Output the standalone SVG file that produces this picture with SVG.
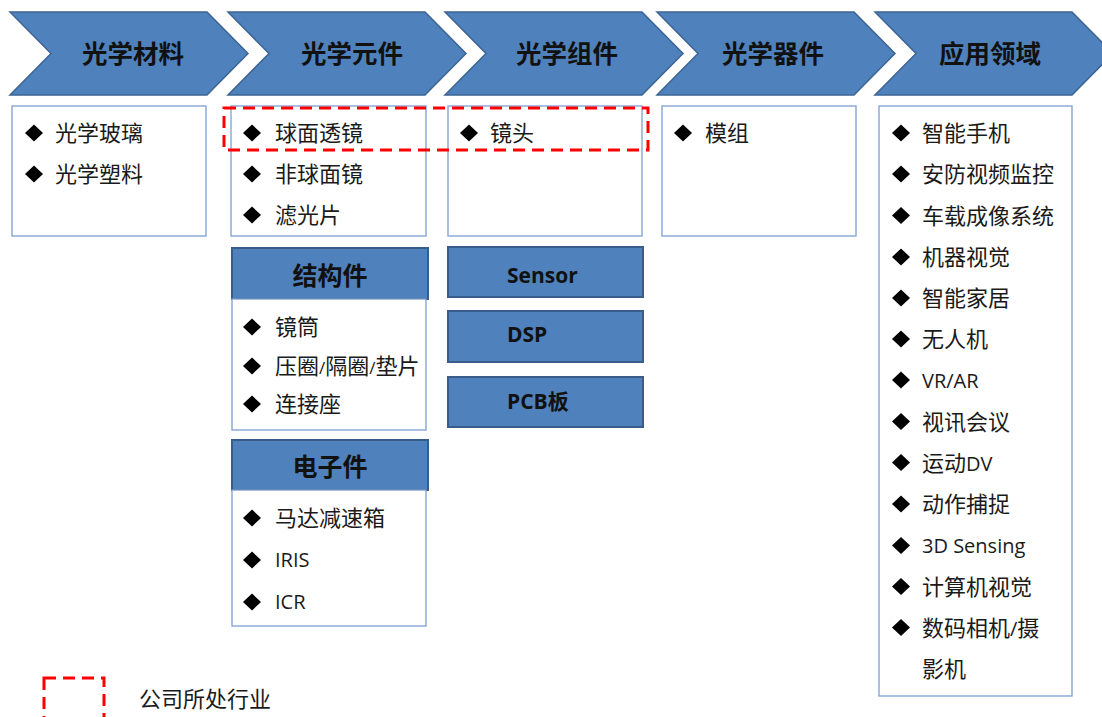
<svg xmlns="http://www.w3.org/2000/svg" width="1102" height="717" viewBox="0 0 1102 717">
<style>
.chev{fill:#4f81bd;stroke:#3c6494;stroke-width:1.5}
.ct{font-family:"Noto Sans CJK SC",sans-serif;font-weight:bold;font-size:25.5px;fill:#111;text-anchor:middle}
.box{fill:#fff;stroke:#7d9fd3;stroke-width:1.3}
.hdr{fill:#4f81bd;stroke:#385d8a;stroke-width:2}
.ht{font-family:"Noto Sans CJK SC",sans-serif;font-weight:bold;font-size:25px;fill:#111;text-anchor:middle}
.hl{font-family:"Open Sans","Noto Sans CJK SC",sans-serif;font-weight:bold;font-size:21px;fill:#111}
.it{font-family:"Open Sans","Noto Sans CJK SC",sans-serif;font-size:22px;fill:#1a1a1a}
.lat{font-size:20px}
.sl{font-size:17px}
.dash{fill:none;stroke:#ff0000;stroke-width:3;stroke-dasharray:12 7}
</style>
<defs>
<polygon id="dia" points="0,-8.5 9,0 0,8.5 -9,0" fill="#000"/>
</defs>

<g id="chevrons">
<g id="c1"><polygon class="chev" points="10,12 207,12 248,53.5 207,95 10,95 51,53.5"/><text class="ct" x="133" y="63">光学材料</text></g>
<g id="c2"><polygon class="chev" points="228,12 425,12 466,53.5 425,95 228,95 269,53.5"/><text class="ct" x="352" y="63">光学元件</text></g>
<g id="c3"><polygon class="chev" points="445,12 642,12 683,53.5 642,95 445,95 486,53.5"/><text class="ct" x="567" y="63">光学组件</text></g>
<g id="c4"><polygon class="chev" points="657,12 854,12 895,53.5 854,95 657,95 698,53.5"/><text class="ct" x="773" y="63">光学器件</text></g>
<g id="c5"><polygon class="chev" points="875,12 1072,12 1113,53.5 1072,95 875,95 916,53.5"/><text class="ct" x="990" y="63">应用领域</text></g>
</g>

<g id="box1">
<rect class="box" x="12" y="106" width="194" height="130"/>
<use href="#dia" x="34" y="133"/><text class="it" x="55" y="141">光学玻璃</text>
<use href="#dia" x="34" y="174"/><text class="it" x="55" y="182">光学塑料</text>
</g>

<g id="box2">
<rect class="box" x="231" y="106" width="195" height="130"/>
<use href="#dia" x="252" y="133"/><text class="it" x="275" y="141">球面透镜</text>
<use href="#dia" x="252" y="174"/><text class="it" x="275" y="182">非球面镜</text>
<use href="#dia" x="252" y="215"/><text class="it" x="275" y="223">滤光片</text>
</g>

<g id="box3">
<rect class="box" x="448" y="106" width="194" height="130"/>
<use href="#dia" x="469" y="133"/><text class="it" x="490" y="141">镜头</text>
</g>

<g id="box4">
<rect class="box" x="662" y="106" width="194" height="130"/>
<use href="#dia" x="683" y="133"/><text class="it" x="705" y="141">模组</text>
</g>

<g id="box5">
<rect class="box" x="879" y="106" width="193" height="590"/>
<use href="#dia" x="901" y="133"/><text class="it" x="922" y="141">智能手机</text>
<use href="#dia" x="901" y="174"/><text class="it" x="922" y="182">安防视频监控</text>
<use href="#dia" x="901" y="215.5"/><text class="it" x="922" y="223.5">车载成像系统</text>
<use href="#dia" x="901" y="257"/><text class="it" x="922" y="265">机器视觉</text>
<use href="#dia" x="901" y="298"/><text class="it" x="922" y="306">智能家居</text>
<use href="#dia" x="901" y="339"/><text class="it" x="922" y="347">无人机</text>
<use href="#dia" x="901" y="380"/><text class="it" x="922" y="388"><tspan class="lat">VR/AR</tspan></text>
<use href="#dia" x="901" y="421.5"/><text class="it" x="922" y="429.5">视讯会议</text>
<use href="#dia" x="901" y="462.5"/><text class="it" x="922" y="470.5">运动<tspan class="lat">DV</tspan></text>
<use href="#dia" x="901" y="504"/><text class="it" x="922" y="512">动作捕捉</text>
<use href="#dia" x="901" y="545.5"/><text class="it" x="922" y="553"><tspan class="lat">3D Sensing</tspan></text>
<use href="#dia" x="901" y="586.5"/><text class="it" x="922" y="594.5">计算机视觉</text>
<use href="#dia" x="901" y="627.5"/><text class="it" x="922" y="635.5">数码相机<tspan class="lat">/</tspan>摄</text>
<text class="it" x="922" y="676.5">影机</text>
</g>

<g id="struct">
<rect class="hdr" x="232" y="248" width="196" height="51"/>
<text class="ht" x="330" y="285">结构件</text>
<rect class="box" x="232" y="299" width="194" height="131"/>
<use href="#dia" x="252" y="327"/><text class="it" x="275" y="335">镜筒</text>
<use href="#dia" x="252" y="366"/><text class="it" x="275" y="374">压圈<tspan class="sl">/</tspan>隔圈<tspan class="sl">/</tspan>垫片</text>
<use href="#dia" x="252" y="404"/><text class="it" x="275" y="412">连接座</text>
</g>

<g id="elec">
<rect class="hdr" x="232" y="440" width="196" height="50"/>
<text class="ht" x="330" y="476">电子件</text>
<rect class="box" x="232" y="490" width="194" height="136"/>
<use href="#dia" x="252" y="518"/><text class="it" x="275" y="526">马达减速箱</text>
<use href="#dia" x="252" y="560"/><text class="it" x="275" y="567"><tspan class="lat">IRIS</tspan></text>
<use href="#dia" x="252" y="602"/><text class="it" x="275" y="609"><tspan class="lat">ICR</tspan></text>
</g>

<g id="sensor"><rect class="hdr" x="448" y="247" width="195" height="50"/><text class="hl" x="507" y="283">Sensor</text></g>
<g id="dsp"><rect class="hdr" x="448" y="311" width="195" height="51"/><text class="hl" x="507" y="342">DSP</text></g>
<g id="pcb"><rect class="hdr" x="448" y="377" width="195" height="50"/><text class="hl" x="507" y="409">PCB板</text></g>

<g id="highlight">
<rect class="dash" x="224" y="108" width="424" height="42"/>
</g>

<g id="legend">
<rect class="dash" x="44" y="678" width="60" height="60"/>
<text class="it" x="139" y="707">公司所处行业</text>
</g>

<g id="connectors"></g>
</svg>
